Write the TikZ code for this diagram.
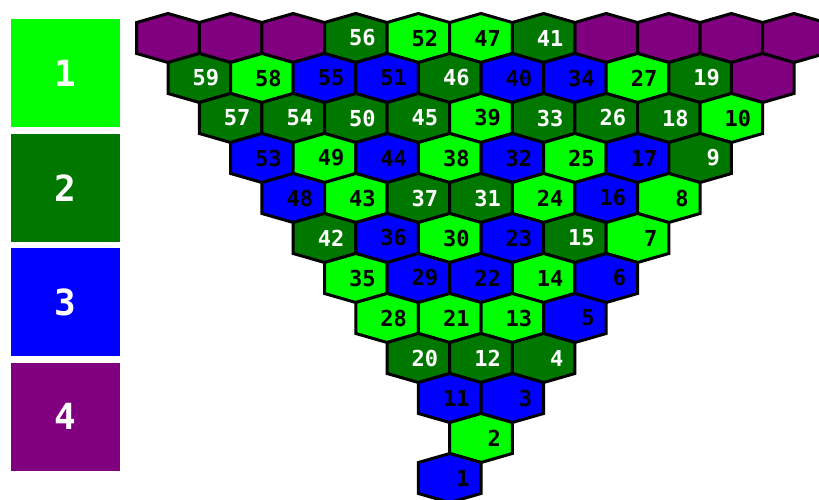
\documentclass[tikz,border=0pt]{standalone}
\usepackage{fontspec}
\newfontfamily\hexfont{DejaVu Sans Mono}
\definecolor{lgr}{RGB}{0,255,0}
\definecolor{dgr}{RGB}{0,120,0}
\definecolor{blu}{RGB}{0,0,255}
\definecolor{pur}{RGB}{128,0,128}
\colorlet{lgrtxt}{black}
\colorlet{dgrtxt}{white}
\colorlet{blutxt}{black}
\tikzset{
  hexline/.style={draw=black, line width=3pt, line join=miter},
  hexlab/.style={inner sep=0pt, anchor=east, font=\hexfont\bfseries\fontsize{22}{22}\selectfont},
  legbox/.style={inner sep=0pt, minimum width=109pt, minimum height=108pt, text=white,
    font=\hexfont\bfseries\fontsize{36}{36}\selectfont}
}
\newcommand{\hexpath}[3]{% style, x, y
  \draw[hexline, fill=#1] (#2,#3) ++(0,-24.5) -- ++(31.3,9) -- ++(0,31) -- ++(-31.3,9)
    -- ++(-31.3,-9) -- ++(0,-31) -- cycle;}
\begin{document}
\begin{tikzpicture}[x=1pt, y=-1pt]
\useasboundingbox (0,0) rectangle (819,500);
% legend
\node[legbox, fill=lgr] (k1) at (65.5,73.5) {1};
\node[legbox, fill=dgr] (k2) at (65.5,188) {2};
\node[legbox, fill=blu] (k3) at (65.5,302) {3};
\node[legbox, fill=pur] (k4) at (65.5,416.5) {4};
% purple cells
\foreach \t/\j in {0/0,0/1,0/2,0/7,0/8,0/9,0/10,1/9} {
  \pgfmathsetmacro\xx{ifthenelse(mod(\t,2)==0,168,199.3)+62.6*\j}
  \pgfmathsetmacro\yy{38+40*\t}
  \hexpath{pur}{\xx}{\yy}
}
\foreach \t/\j/\l/\c in {
0/3/56/dgr, 0/4/52/lgr, 0/5/47/lgr, 0/6/41/dgr,
1/0/59/dgr, 1/1/58/lgr, 1/2/55/blu, 1/3/51/blu, 1/4/46/dgr, 1/5/40/blu, 1/6/34/blu, 1/7/27/lgr, 1/8/19/dgr,
2/1/57/dgr, 2/2/54/dgr, 2/3/50/dgr, 2/4/45/dgr, 2/5/39/lgr, 2/6/33/dgr, 2/7/26/dgr, 2/8/18/dgr, 2/9/10/lgr,
3/1/53/blu, 3/2/49/lgr, 3/3/44/blu, 3/4/38/lgr, 3/5/32/blu, 3/6/25/lgr, 3/7/17/blu, 3/8/9/dgr,
4/2/48/blu, 4/3/43/lgr, 4/4/37/dgr, 4/5/31/dgr, 4/6/24/lgr, 4/7/16/blu, 4/8/8/lgr,
5/2/42/dgr, 5/3/36/blu, 5/4/30/lgr, 5/5/23/blu, 5/6/15/dgr, 5/7/7/lgr,
6/3/35/lgr, 6/4/29/blu, 6/5/22/blu, 6/6/14/lgr, 6/7/6/blu,
7/3/28/lgr, 7/4/21/lgr, 7/5/13/lgr, 7/6/5/blu,
8/4/20/dgr, 8/5/12/dgr, 8/6/4/dgr,
9/4/11/blu, 9/5/3/blu,
10/5/2/lgr,
11/4/1/blu} {
  \pgfmathsetmacro\xx{ifthenelse(mod(\t,2)==0,168,199.3)+62.6*\j}
  \pgfmathsetmacro\yy{38+40*\t}
  \hexpath{\c}{\xx}{\yy}
  \node[hexlab, text=\c txt] (h\l) at (\xx+20,\yy) {\l};
}
\end{tikzpicture}
\end{document}
